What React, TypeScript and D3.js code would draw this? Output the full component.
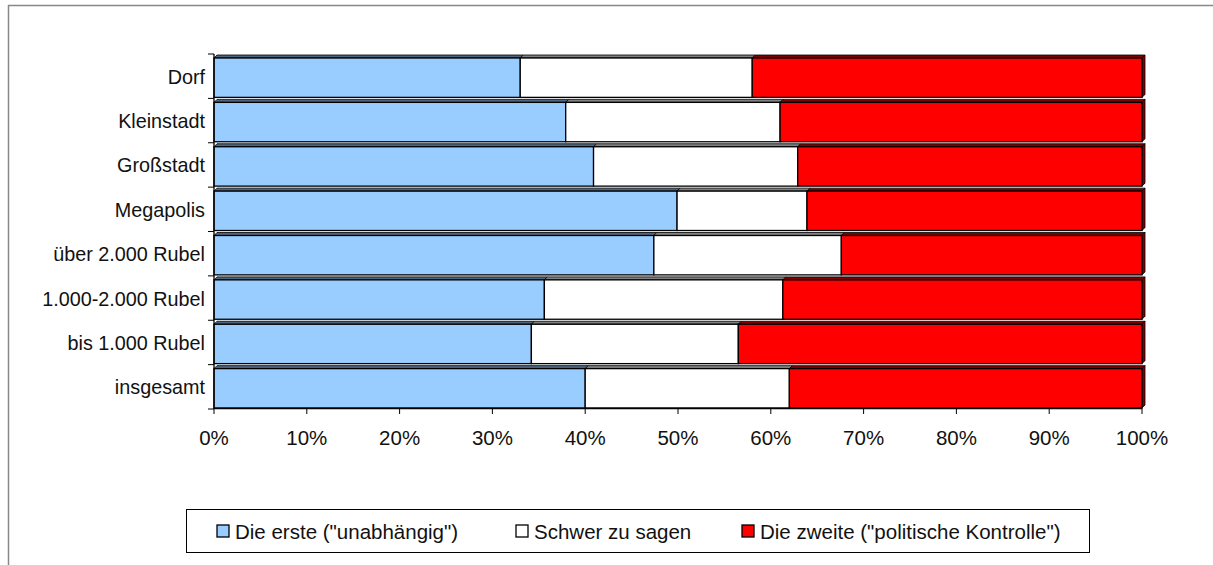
import React from "react";
import * as d3 from "d3";

const categories = ["Dorf", "Kleinstadt", "Großstadt", "Megapolis", "über 2.000 Rubel", "1.000-2.000 Rubel", "bis 1.000 Rubel", "insgesamt"];
const erste = [33.0, 37.9, 40.9, 49.9, 47.4, 35.6, 34.2, 40.0];
const schwer = [25.0, 23.1, 22.0, 14.0, 20.2, 25.7, 22.3, 22.0];
const zweite = [42.0, 39.0, 37.1, 36.1, 32.4, 38.7, 43.5, 38.0];
const seriesNames = ["Die erste (\"unabhängig\")", "Schwer zu sagen", "Die zweite (\"politische Kontrolle\")"];
const seriesColors = ["#99CCFF", "#FFFFFF", "#FF0000"];
const topColors = ["#4d6680", "#808080", "#800000"];
const ticks = [0, 10, 20, 30, 40, 50, 60, 70, 80, 90, 100];

const W = 1213, H = 565;
const FONT = "'Liberation Sans', Arial, sans-serif";

export default function App() {
  const x = d3.scaleLinear().domain([0, 100]).range([214, 1142]);
  const y = d3.scaleBand<string>().domain(categories).range([54, 409]).padding(0);
  const bw = y.bandwidth();
  const dep = 3;
  const stack = d3.stack<any>().keys(["a", "b", "c"])(
    categories.map((c, i) => ({ cat: c, a: erste[i], b: schwer[i], c: zweite[i] }))
  );

  return (
    <svg width={W} height={H} style={{ position: "absolute", left: 0, top: 0 }}>
      <rect x={0} y={0} width={W} height={H} fill="#fff" />
      {/* outer frame */}
      <line x1={8} y1={5.5} x2={W} y2={5.5} stroke="#888" strokeWidth={1.5} />
      <line x1={8.5} y1={5} x2={8.5} y2={H} stroke="#888" strokeWidth={1.5} />

      {/* bars */}
      {stack.map((s, si) =>
        s.map((d, i) => {
          const cat = categories[i];
          const x0 = x(d[0]), x1 = x(d[1]);
          const yT = (y(cat) as number) + 4;
          const yB = (y(cat) as number) + bw - 1;
          return (
            <g key={si + "-" + i}>
              <polygon
                points={`${x0},${yT} ${x0 + dep},${yT - dep} ${x1 + dep},${yT - dep} ${x1},${yT}`}
                fill={topColors[si]} stroke="#000" strokeWidth={0.8}
              />
              {si === 2 && (
                <polygon
                  points={`${x1},${yT} ${x1 + dep},${yT - dep} ${x1 + dep},${yB - dep} ${x1},${yB}`}
                  fill="#800000" stroke="#000" strokeWidth={0.8}
                />
              )}
              <rect x={x0} y={yT} width={x1 - x0} height={yB - yT}
                fill={seriesColors[si]} stroke="#000" strokeWidth={1.3} />
            </g>
          );
        })
      )}

      {/* left axis */}
      <line x1={214} y1={54} x2={214} y2={409} stroke="#000" strokeWidth={1.3} />
      {categories.concat(["_end"]).map((c, i) => {
        const yy = 54 + i * bw;
        return <line key={"lt" + i} x1={208} x2={214} y1={yy} y2={yy} stroke="#000" strokeWidth={1} />;
      })}
      {categories.map((c) => (
        <text key={"cl" + c} x={205} y={(y(c) as number) + bw / 2 + 7.5} textAnchor="end"
          fontFamily={FONT} fontSize={19.8} fill="#111">{c}</text>
      ))}

      {/* bottom axis */}
      <line x1={214} y1={408.5} x2={1142} y2={408.5} stroke="#000" strokeWidth={1.3} />
      {ticks.map((t) => (
        <g key={"t" + t}>
          <line x1={x(t)} x2={x(t)} y1={408} y2={414} stroke="#000" strokeWidth={1} />
          <text x={x(t)} y={444.5} textAnchor="middle" fontFamily={FONT} fontSize={20.5} fill="#111">{t}%</text>
        </g>
      ))}

      {/* legend */}
      <rect x={186.5} y={509.5} width={903} height={43} fill="#fff" stroke="#000" strokeWidth={1} />
      {[0, 1, 2].map((i) => {
        const lx = [217, 516, 742][i];
        return (
          <g key={"lg" + i}>
            <rect x={lx} y={525} width={12} height={12} fill={seriesColors[i]} stroke="#000" strokeWidth={1.3} />
            <text x={lx + 18} y={538.5} fontFamily={FONT} fontSize={20.5} fill="#111">{seriesNames[i]}</text>
          </g>
        );
      })}
    </svg>
  );
}
